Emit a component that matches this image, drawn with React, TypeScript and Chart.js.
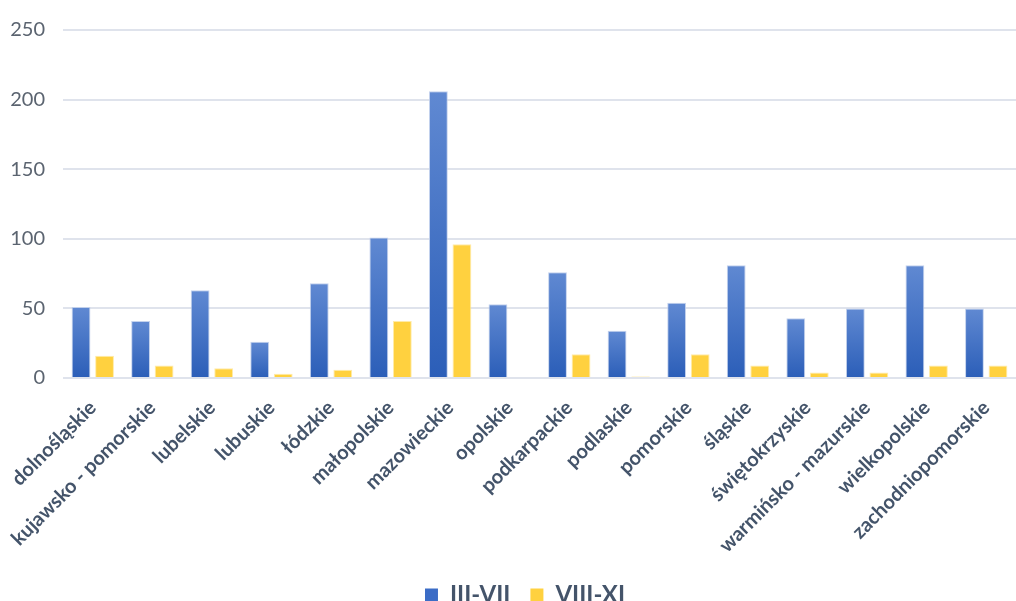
import React, { useEffect, useRef } from "react";
import { Chart, registerables } from "chart.js";

Chart.register(...registerables);

const categories: string[] = [
  "dolnośląskie",
  "kujawsko - pomorskie",
  "lubelskie",
  "lubuskie",
  "łódzkie",
  "małopolskie",
  "mazowieckie",
  "opolskie",
  "podkarpackie",
  "podlaskie",
  "pomorskie",
  "śląskie",
  "świętokrzyskie",
  "warmińsko - mazurskie",
  "wielkopolskie",
  "zachodniopomorskie",
];

const seriesIIIVII: number[] = [51, 41, 63, 26, 68, 101, 206, 53, 76, 34, 54, 81, 43, 50, 81, 50];
const seriesVIIIXI: number[] = [16, 9, 7, 3, 6, 41, 96, 0, 17, 1, 17, 9, 4, 4, 9, 9];

const seriesNames: string[] = ["III-VII", "VIII-XI"];
const yTicks: number[] = [0, 50, 100, 150, 200, 250];

const BLUE_TOP = "#6089d2";
const BLUE_BOTTOM = "#2b5eb8";
const BLUE_LEGEND = "#3b6cc6";
const YELLOW = "#ffd13f";

const shiftLegend = {
  id: "shiftLegend",
  afterLayout(chart: any) {
    const l = chart.legend;
    if (l) {
      l.left += 17;
      l.right += 17;
    }
  },
};

export default function App() {
  const ref = useRef<HTMLCanvasElement | null>(null);

  useEffect(() => {
    const canvas = ref.current;
    if (!canvas) return;

    const blueFill = (ctx: any) => {
      const chart = ctx.chart;
      const area = chart.chartArea;
      if (ctx.dataIndex === undefined || !area || !chart.scales || !chart.scales.y) return BLUE_LEGEND;
      const y = chart.scales.y;
      const v = ctx.raw as number;
      const top = y.getPixelForValue(v);
      const base = y.getPixelForValue(0);
      if (!isFinite(top) || !isFinite(base) || Math.abs(base - top) < 1) return BLUE_BOTTOM;
      const g = chart.ctx.createLinearGradient(0, top, 0, base);
      g.addColorStop(0, BLUE_TOP);
      g.addColorStop(1, BLUE_BOTTOM);
      return g;
    };

    const chart = new Chart(canvas, {
      type: "bar",
      plugins: [shiftLegend],
      data: {
        labels: categories,
        datasets: [
          {
            label: seriesNames[0],
            data: seriesIIIVII,
            backgroundColor: blueFill as any,
            borderColor: "rgba(190,205,235,0.9)",
            borderWidth: 1,
            categoryPercentage: 0.79,
            barPercentage: 0.8,
          },
          {
            label: seriesNames[1],
            data: seriesVIIIXI,
            backgroundColor: YELLOW,
            borderColor: "rgba(255,233,160,0.9)",
            borderWidth: 1,
            categoryPercentage: 0.79,
            barPercentage: 0.8,
          },
        ],
      },
      options: {
        animation: false,
        responsive: true,
        maintainAspectRatio: false,
        layout: { padding: { top: 16, left: 0, right: 0, bottom: 0 } },
        plugins: {
          tooltip: { enabled: false },
          legend: {
            position: "bottom",
            labels: {
              boxWidth: 13,
              boxHeight: 13,
              padding: 20,
              color: "#44546a",
              font: { family: "Lato", size: 24, weight: "bold" },
              generateLabels: (c: any) =>
                c.data.datasets.map((d: any, i: number) => ({
                  text: d.label,
                  fillStyle: i === 0 ? BLUE_LEGEND : YELLOW,
                  strokeStyle: i === 0 ? BLUE_LEGEND : YELLOW,
                  lineWidth: 0,
                  hidden: false,
                  datasetIndex: i,
                  fontColor: "#44546a",
                })),
            },
          },
        },
        scales: {
          x: {
            grid: { display: false },
            border: { display: false },
            afterFit: (s: any) => {
              s.height = 185;
            },
            ticks: {
              autoSkip: false,
              maxRotation: 45,
              minRotation: 45,
              padding: 10,
              color: "#44546a",
              font: { family: "Lato", size: 20, weight: "bold" },
            },
          },
          y: {
            min: 0,
            max: 250,
            afterFit: (s: any) => {
              s.width = 63;
            },
            afterBuildTicks: (s: any) => {
              s.ticks = yTicks.map((v) => ({ value: v }));
            },
            border: { display: false },
            grid: { color: "#dfe3ec", lineWidth: 2, drawTicks: false },
            ticks: {
              padding: 18,
              color: "#5b6470",
              font: { family: "Lato", size: 20 },
            },
          },
        },
      },
    });

    return () => {
      chart.destroy();
    };
  }, []);

  return (
    <div style={{ position: "fixed", left: 0, top: 0, width: 1016, height: 617, background: "#fff" }}>
      <canvas ref={ref} />
    </div>
  );
}
